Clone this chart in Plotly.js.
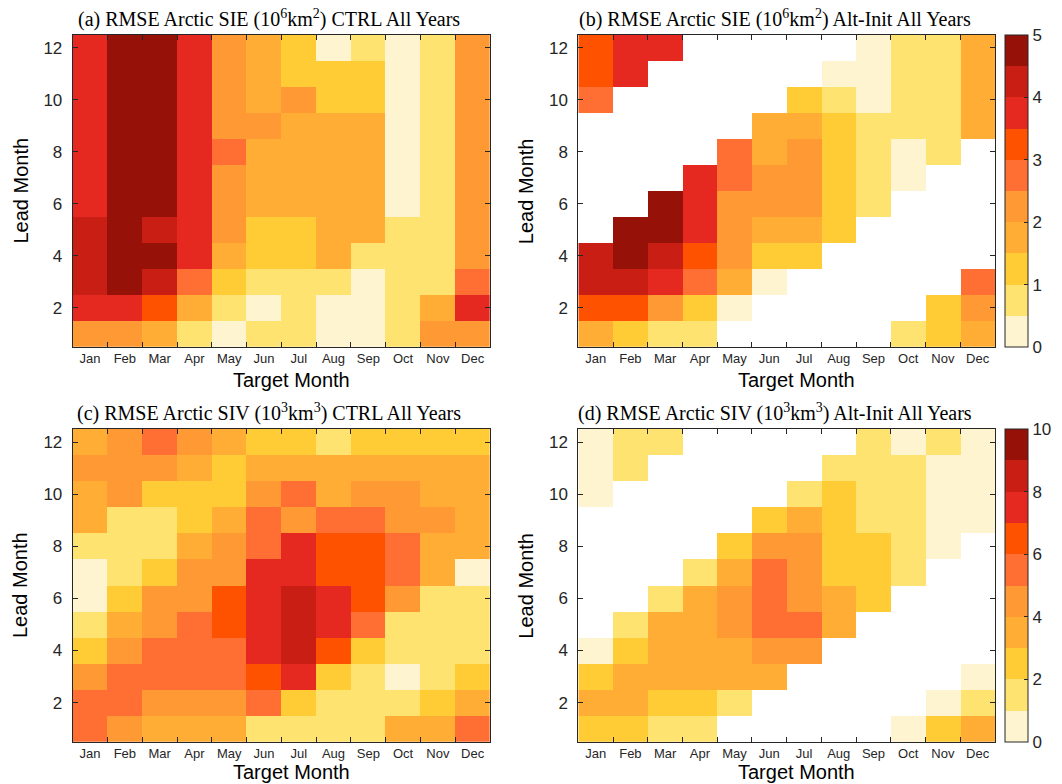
<!DOCTYPE html>
<html>
<head>
<meta charset="utf-8">
<script src="https://cdn.plot.ly/plotly-3.0.1.min.js"></script>
<style>html,body{margin:0;padding:0;background:#fff;}#chart{width:1062px;height:784px;}</style>
</head>
<body>
<div id="chart"></div>
<script>
// Categories
const months = ['Jan','Feb','Mar','Apr','May','Jun','Jul','Aug','Sep','Oct','Nov','Dec'];
const leads = [1,2,3,4,5,6,7,8,9,10,11,12];
const n = null;

// (a) RMSE Arctic SIE CTRL (rows: lead 1 .. lead 12)
const sieCtrl = [
  [2.3,2.2,1.8,0.8,0.3,0.8,0.9,0.3,0.4,0.8,2.2,2.3],
  [3.8,3.7,3.3,1.8,0.8,0.4,0.9,0.3,0.3,0.8,1.8,3.8],
  [4.2,4.7,4.2,2.8,1.3,0.8,0.8,0.9,0.4,0.8,0.9,2.8],
  [4.3,4.8,4.6,3.8,1.8,1.3,1.4,1.8,0.9,0.8,0.9,2.3],
  [4.3,4.8,4.2,3.9,2.2,1.3,1.4,1.8,1.7,0.8,0.9,2.3],
  [3.9,4.8,4.7,3.9,2.2,1.8,1.8,1.7,1.8,0.4,0.9,2.3],
  [3.9,4.8,4.8,3.9,2.2,1.8,1.8,1.8,1.8,0.4,0.9,2.3],
  [3.9,4.8,4.8,3.9,2.7,1.8,1.8,1.8,1.8,0.4,0.9,2.3],
  [3.9,4.8,4.8,3.9,2.3,2.1,1.8,1.8,1.8,0.4,0.9,2.3],
  [3.9,4.8,4.8,3.9,2.3,1.9,2.1,1.4,1.4,0.4,0.9,2.3],
  [3.9,4.8,4.8,3.9,2.3,1.9,1.4,1.4,1.4,0.4,0.9,2.3],
  [3.9,4.8,4.8,3.9,2.3,1.9,1.4,0.4,0.9,0.4,0.9,2.3]
];

// (b) RMSE Arctic SIE Alt-Init
const sieAlt = [
  [1.8,1.3,0.8,0.9,n,n,n,n,n,0.8,1.3,1.8],
  [3.3,3.2,2.3,1.3,0.4,n,n,n,n,n,1.3,2.3],
  [4.2,4.2,3.8,2.8,1.8,0.4,n,n,n,n,n,2.8],
  [4.3,4.7,4.3,3.3,2.3,1.3,1.3,n,n,n,n,n],
  [n,4.7,4.6,3.8,2.3,1.8,1.8,1.3,n,n,n,n],
  [n,n,4.6,3.8,2.2,2.3,2.3,1.3,0.8,n,n,n],
  [n,n,n,3.8,2.8,2.3,2.3,1.3,0.8,0.4,n,n],
  [n,n,n,n,2.8,1.8,2.2,1.3,0.8,0.4,0.8,n],
  [n,n,n,n,n,1.8,1.8,1.3,0.8,0.8,0.8,1.8],
  [2.8,n,n,n,n,n,1.3,0.8,0.4,0.8,0.8,1.8],
  [3.3,3.8,n,n,n,n,n,0.4,0.4,0.8,0.8,1.8],
  [3.3,3.8,3.8,n,n,n,n,n,0.4,0.8,0.8,1.8]
];

// (c) RMSE Arctic SIV CTRL
const sivCtrl = [
  [5.4,4.4,3.6,3.5,3.5,1.6,1.7,1.6,1.7,3.5,3.5,5.4],
  [5.3,5.4,4.4,4.3,4.4,5.3,2.5,1.7,1.6,1.7,2.5,3.6],
  [4.4,5.5,5.4,5.5,5.5,6.5,7.4,2.5,1.6,0.7,1.6,2.5],
  [2.5,4.4,5.4,5.5,5.5,7.5,8.4,6.5,2.5,1.6,1.6,1.6],
  [1.7,3.6,4.4,5.5,6.5,7.5,8.4,7.5,5.4,1.6,1.6,1.6],
  [0.7,2.5,4.4,4.5,6.5,7.6,8.4,7.5,6.5,4.4,1.6,1.6],
  [0.7,1.7,2.5,4.4,4.5,7.5,7.5,6.5,6.5,5.4,3.6,0.7],
  [1.7,1.7,1.7,3.6,4.4,5.5,7.4,6.5,6.5,5.4,3.6,3.5],
  [3.6,1.7,1.7,2.5,3.6,5.4,4.5,5.5,5.4,4.4,4.4,3.6],
  [3.6,4.4,2.5,2.5,2.6,4.4,5.4,3.6,4.4,4.4,3.6,3.6],
  [4.4,4.4,4.4,3.6,2.6,3.6,3.6,3.6,3.6,3.6,3.6,3.6],
  [3.6,4.4,5.4,4.4,3.6,2.5,2.5,1.7,2.5,2.5,2.5,2.5]
];

// (d) RMSE Arctic SIV Alt-Init
const sivAlt = [
  [2.5,2.5,1.6,1.7,n,n,n,n,n,0.7,2.5,3.6],
  [3.5,3.6,2.5,2.5,1.6,n,n,n,n,n,0.7,1.6],
  [2.5,3.5,3.6,3.6,3.6,3.5,n,n,n,n,n,0.7],
  [0.7,2.5,3.6,3.6,3.5,4.4,4.4,n,n,n,n,n],
  [n,1.7,3.5,3.6,4.4,5.4,5.5,3.6,n,n,n,n],
  [n,n,1.7,3.6,4.4,5.5,4.4,3.6,2.5,n,n,n],
  [n,n,n,1.6,3.6,5.4,4.5,2.5,2.5,1.6,n,n],
  [n,n,n,n,2.5,4.4,4.4,2.5,2.5,1.6,0.7,n],
  [n,n,n,n,n,2.5,3.6,2.5,1.7,1.6,0.7,0.7],
  [0.7,n,n,n,n,n,1.7,2.5,1.7,1.6,0.7,0.7],
  [0.7,1.6,n,n,n,n,n,1.6,1.7,1.6,0.7,0.7],
  [0.7,1.6,1.7,n,n,n,n,n,1.6,0.7,1.6,0.7]
];

const sieTicks = [0,1,2,3,4,5];
const sivTicks = [0,2,4,6,8,10];
const levelColors = ['#FFF4D0','#FFE370','#FFCC35','#FFAD35','#FF9933','#FF6E33','#FF5200','#E52820','#C81E14','#961209'];

function stepScale(cols){
  const s=[]; const k=cols.length;
  cols.forEach((c,i)=>{ s.push([i/k,c]); s.push([(i+1)/k,c]); });
  return s;
}
const cs = stepScale(levelColors);
const W=1062, H=784;
const ink='#262626';
const sans='"Liberation Sans", Arial, sans-serif';
const serif='"Liberation Serif", "Times New Roman", serif';

const panels = [
  {z:sieCtrl, zmax:5, xa:'x', ya:'y', xd:[72.7,490], yd:[35,346.7], scale:false},
  {z:sieAlt, zmax:5, xa:'x2', ya:'y2', xd:[578.3,995], yd:[35,346.7], scale:true, ticks:sieTicks},
  {z:sivCtrl, zmax:10, xa:'x3', ya:'y3', xd:[72.7,490], yd:[429,741.7], scale:false},
  {z:sivAlt, zmax:10, xa:'x4', ya:'y4', xd:[578.3,995], yd:[429,741.7], scale:true, ticks:sivTicks}
];

const data = panels.map(p=>{
  const t = {type:'heatmap', x:months, y:leads, z:p.z, xaxis:p.xa, yaxis:p.ya,
    colorscale:cs, zmin:0, zmax:p.zmax, showscale:p.scale, hoverongaps:false, xgap:0, ygap:0};
  if(p.scale){
    t.colorbar = {x:1005/W, xanchor:'left', xref:'paper', y:1-p.yd[0]/H, yanchor:'top', yref:'paper',
      len:p.yd[1]-p.yd[0], lenmode:'pixels', thickness:23, thicknessmode:'pixels',
      outlinecolor:ink, outlinewidth:1, tickvals:p.ticks, ticks:'inside', ticklen:4, tickcolor:ink,
      tickfont:{family:sans, size:17, color:ink}, xpad:0, ypad:0, ticklabelpad:6};
  }
  return t;
});

const layout = {width:W, height:H, margin:{l:0,r:0,t:0,b:0}, paper_bgcolor:'#fff', plot_bgcolor:'#fff',
  showlegend:false, annotations:[]};

const titles = [
  '(a) RMSE Arctic SIE (10<sup>6</sup>km<sup>2</sup>) CTRL All Years',
  '(b) RMSE Arctic SIE (10<sup>6</sup>km<sup>2</sup>) Alt-Init All Years',
  '(c) RMSE Arctic SIV (10<sup>3</sup>km<sup>3</sup>) CTRL All Years',
  '(d) RMSE Arctic SIV (10<sup>3</sup>km<sup>3</sup>) Alt-Init All Years'
];

panels.forEach((p,i)=>{
  const xk = 'xaxis'+(i?i+1:''), yk='yaxis'+(i?i+1:'');
  layout[xk] = {domain:[p.xd[0]/W, p.xd[1]/W], anchor:p.ya, type:'category', tickson:'boundaries',
    ticks:'inside', ticklen:5, tickcolor:ink, mirror:'ticks', showline:true, linecolor:ink, linewidth:1,
    showgrid:false, zeroline:false, tickfont:{family:sans, size:13, color:ink}, fixedrange:true};
  layout[yk] = {domain:[1-p.yd[1]/H, 1-p.yd[0]/H], anchor:p.xa, range:[0.5,12.5],
    tickvals:[2,4,6,8,10,12], ticks:'inside', ticklen:5, tickcolor:ink, mirror:'ticks', showline:true,
    linecolor:ink, linewidth:1, showgrid:false, zeroline:false, tickfont:{family:sans, size:17, color:ink},
    ticklabelstandoff:6, fixedrange:true};
  const cx = (p.xd[0]+p.xd[1])/2;
  layout.annotations.push({text:titles[i], xref:'paper', yref:'paper', x:(cx-12)/W, y:1-(p.yd[0]-17)/H,
    xanchor:'center', yanchor:'middle', showarrow:false, font:{family:serif, size:20, color:'#000'}});
  const off = i<2 ? 33 : 30;
  layout.annotations.push({text:'Target Month', xref:'paper', yref:'paper', x:(cx+10)/W, y:1-(p.yd[1]+off)/H,
    xanchor:'center', yanchor:'middle', showarrow:false, font:{family:sans, size:20, color:'#000'}});
  layout.annotations.push({text:'Lead Month', xref:'paper', yref:'paper', x:(p.xd[0]-52)/W, y:1-((p.yd[0]+p.yd[1])/2)/H,
    xanchor:'center', yanchor:'middle', textangle:-90, showarrow:false, font:{family:sans, size:20, color:'#000'}});
});

Plotly.newPlot('chart', data, layout, {displayModeBar:false, staticPlot:true});
</script>
</body>
</html>
